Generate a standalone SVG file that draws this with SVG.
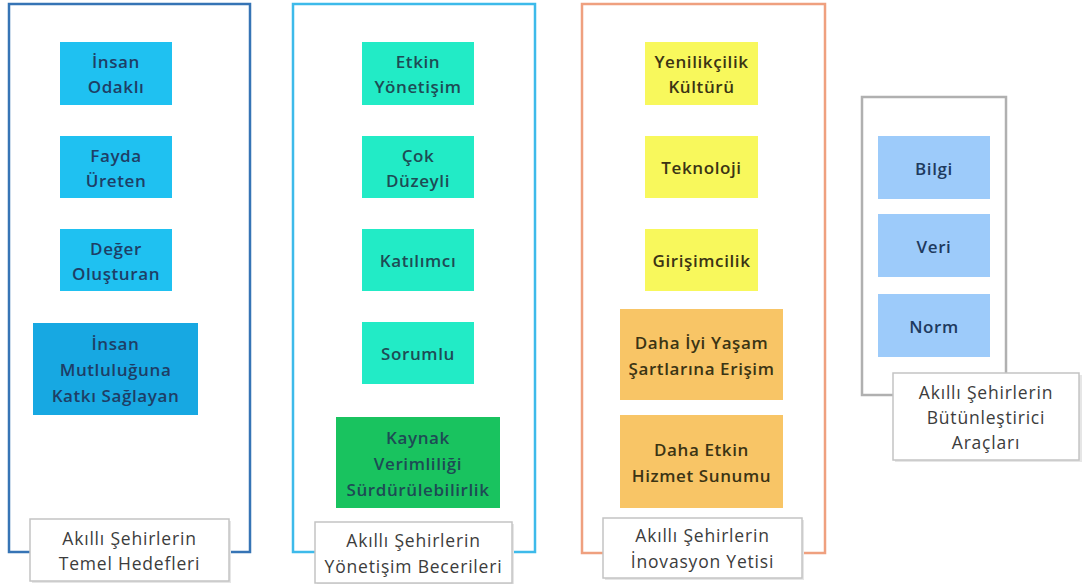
<svg xmlns="http://www.w3.org/2000/svg" width="1082" height="584" viewBox="0 0 1082 584">
  <defs>
    <style>
      .frame { fill: none; stroke-width: 2.5; }
      .box { stroke: none; }
      .t { font-family: "Open Sans", "Liberation Sans", sans-serif; font-size: 17px; letter-spacing: 0.6px; text-anchor: middle; dominant-baseline: central; }
      .b { font-weight: 600; }
      .c1 { fill: #1E3E66; }
      .c2 { fill: #1E4B55; }
      .c3 { fill: #3B3414; }
      .c4 { fill: #1E3A5E; }
      .lbl rect.face { fill: #FFFFFF; stroke: #C4C4C4; stroke-width: 1.5; }
      .lbl rect.shade { fill: #E6E6E6; }
      .lt { fill: #3C3C3C; font-size: 17.5px; letter-spacing: 0.8px; }
    </style>
  </defs>

  <rect width="1082" height="584" fill="#FFFFFF"/>

  <!-- column frames -->
  <g id="connectors">
    <rect class="frame" x="9" y="4" width="241" height="548" stroke="#3674B5"/>
    <rect class="frame" x="293" y="4" width="242" height="548" stroke="#3DBAEA"/>
    <rect class="frame" x="582" y="4" width="243" height="549" stroke="#EFA07F"/>
    <rect class="frame" x="862" y="97" width="144" height="298" stroke="#B0B0B0" stroke-width="1.8"/>
  </g>

  <!-- Column 1: Temel Hedefler -->
  <g id="insan-odakli">
    <rect class="box" x="60" y="42" width="112" height="63" fill="#1FC1F1"/>
    <text class="t b c1" x="116" y="61">İnsan</text>
    <text class="t b c1" x="116" y="86">Odaklı</text>
  </g>
  <g id="fayda-ureten">
    <rect class="box" x="60" y="136" width="112" height="62" fill="#1FC1F1"/>
    <text class="t b c1" x="116" y="155">Fayda</text>
    <text class="t b c1" x="116" y="180">Üreten</text>
  </g>
  <g id="deger-olusturan">
    <rect class="box" x="60" y="229" width="112" height="62" fill="#1FC1F1"/>
    <text class="t b c1" x="116" y="248">Değer</text>
    <text class="t b c1" x="116" y="273">Oluşturan</text>
  </g>
  <g id="insan-mutlulugu">
    <rect class="box" x="33" y="323" width="165" height="92" fill="#17A8E2"/>
    <text class="t b c1" x="115.5" y="343">İnsan</text>
    <text class="t b c1" x="115.5" y="369">Mutluluğuna</text>
    <text class="t b c1" x="115.5" y="395">Katkı Sağlayan</text>
  </g>
  <g id="label-temel" class="lbl">
    <rect class="shade" x="32" y="521" width="199" height="62"/>
    <rect class="face" x="30" y="519" width="199" height="62"/>
    <text class="t lt" x="129.5" y="538">Akıllı Şehirlerin</text>
    <text class="t lt" x="129.5" y="563">Temel Hedefleri</text>
  </g>

  <!-- Column 2: Yönetişim Becerileri -->
  <g id="etkin-yonetisim">
    <rect class="box" x="362" y="42" width="112" height="63" fill="#22EBC6"/>
    <text class="t b c2" x="418" y="61">Etkin</text>
    <text class="t b c2" x="418" y="86">Yönetişim</text>
  </g>
  <g id="cok-duzeyli">
    <rect class="box" x="362" y="136" width="112" height="62" fill="#22EBC6"/>
    <text class="t b c2" x="418" y="155">Çok</text>
    <text class="t b c2" x="418" y="180">Düzeyli</text>
  </g>
  <g id="katilimci">
    <rect class="box" x="362" y="229" width="112" height="62" fill="#22EBC6"/>
    <text class="t b c2" x="418" y="260">Katılımcı</text>
  </g>
  <g id="sorumlu">
    <rect class="box" x="362" y="322" width="112" height="62" fill="#22EBC6"/>
    <text class="t b c2" x="418" y="353">Sorumlu</text>
  </g>
  <g id="kaynak-verimliligi">
    <rect class="box" x="336" y="417" width="164" height="91" fill="#19C35F"/>
    <text class="t b c2" x="418" y="437">Kaynak</text>
    <text class="t b c2" x="418" y="463">Verimliliği</text>
    <text class="t b c2" x="418" y="489">Sürdürülebilirlik</text>
  </g>
  <g id="label-yonetisim" class="lbl">
    <rect class="shade" x="317" y="524" width="197" height="61"/>
    <rect class="face" x="315" y="522" width="197" height="61"/>
    <text class="t lt" x="413.5" y="540">Akıllı Şehirlerin</text>
    <text class="t lt" x="413.5" y="566">Yönetişim Becerileri</text>
  </g>

  <!-- Column 3: İnovasyon Yetisi -->
  <g id="yenilikcilik">
    <rect class="box" x="645" y="42" width="113" height="63" fill="#F8F85C"/>
    <text class="t b c3" x="701.5" y="61">Yenilikçilik</text>
    <text class="t b c3" x="701.5" y="86">Kültürü</text>
  </g>
  <g id="teknoloji">
    <rect class="box" x="645" y="136" width="113" height="62" fill="#F8F85C"/>
    <text class="t b c3" x="701.5" y="167">Teknoloji</text>
  </g>
  <g id="girisimcilik">
    <rect class="box" x="645" y="229" width="113" height="62" fill="#F8F85C"/>
    <text class="t b c3" x="701.5" y="260">Girişimcilik</text>
  </g>
  <g id="yasam-sartlari">
    <rect class="box" x="620" y="309" width="163" height="91" fill="#F8C566"/>
    <text class="t b c3" x="701.5" y="342">Daha İyi Yaşam</text>
    <text class="t b c3" x="701.5" y="368">Şartlarına Erişim</text>
  </g>
  <g id="hizmet-sunumu">
    <rect class="box" x="620" y="415" width="163" height="93" fill="#F8C566"/>
    <text class="t b c3" x="701.5" y="449">Daha Etkin</text>
    <text class="t b c3" x="701.5" y="475">Hizmet Sunumu</text>
  </g>
  <g id="label-inovasyon" class="lbl">
    <rect class="shade" x="605" y="520" width="199" height="60"/>
    <rect class="face" x="603" y="518" width="199" height="60"/>
    <text class="t lt" x="702.5" y="535">Akıllı Şehirlerin</text>
    <text class="t lt" x="702.5" y="561">İnovasyon Yetisi</text>
  </g>

  <!-- Column 4: Bütünleştirici Araçlar -->
  <g id="bilgi">
    <rect class="box" x="878" y="136" width="112" height="63" fill="#9DCBFA"/>
    <text class="t b c4" x="934" y="168">Bilgi</text>
  </g>
  <g id="veri">
    <rect class="box" x="878" y="214" width="112" height="63" fill="#9DCBFA"/>
    <text class="t b c4" x="934" y="246">Veri</text>
  </g>
  <g id="norm">
    <rect class="box" x="878" y="294" width="112" height="63" fill="#9DCBFA"/>
    <text class="t b c4" x="934" y="326">Norm</text>
  </g>
  <g id="label-araclar" class="lbl">
    <rect class="shade" x="895" y="375" width="187" height="87"/>
    <rect class="face" x="893" y="373" width="186" height="87"/>
    <text class="t lt" x="986" y="392">Akıllı Şehirlerin</text>
    <text class="t lt" x="986" y="417">Bütünleştirici</text>
    <text class="t lt" x="986" y="442">Araçları</text>
  </g>
</svg>
